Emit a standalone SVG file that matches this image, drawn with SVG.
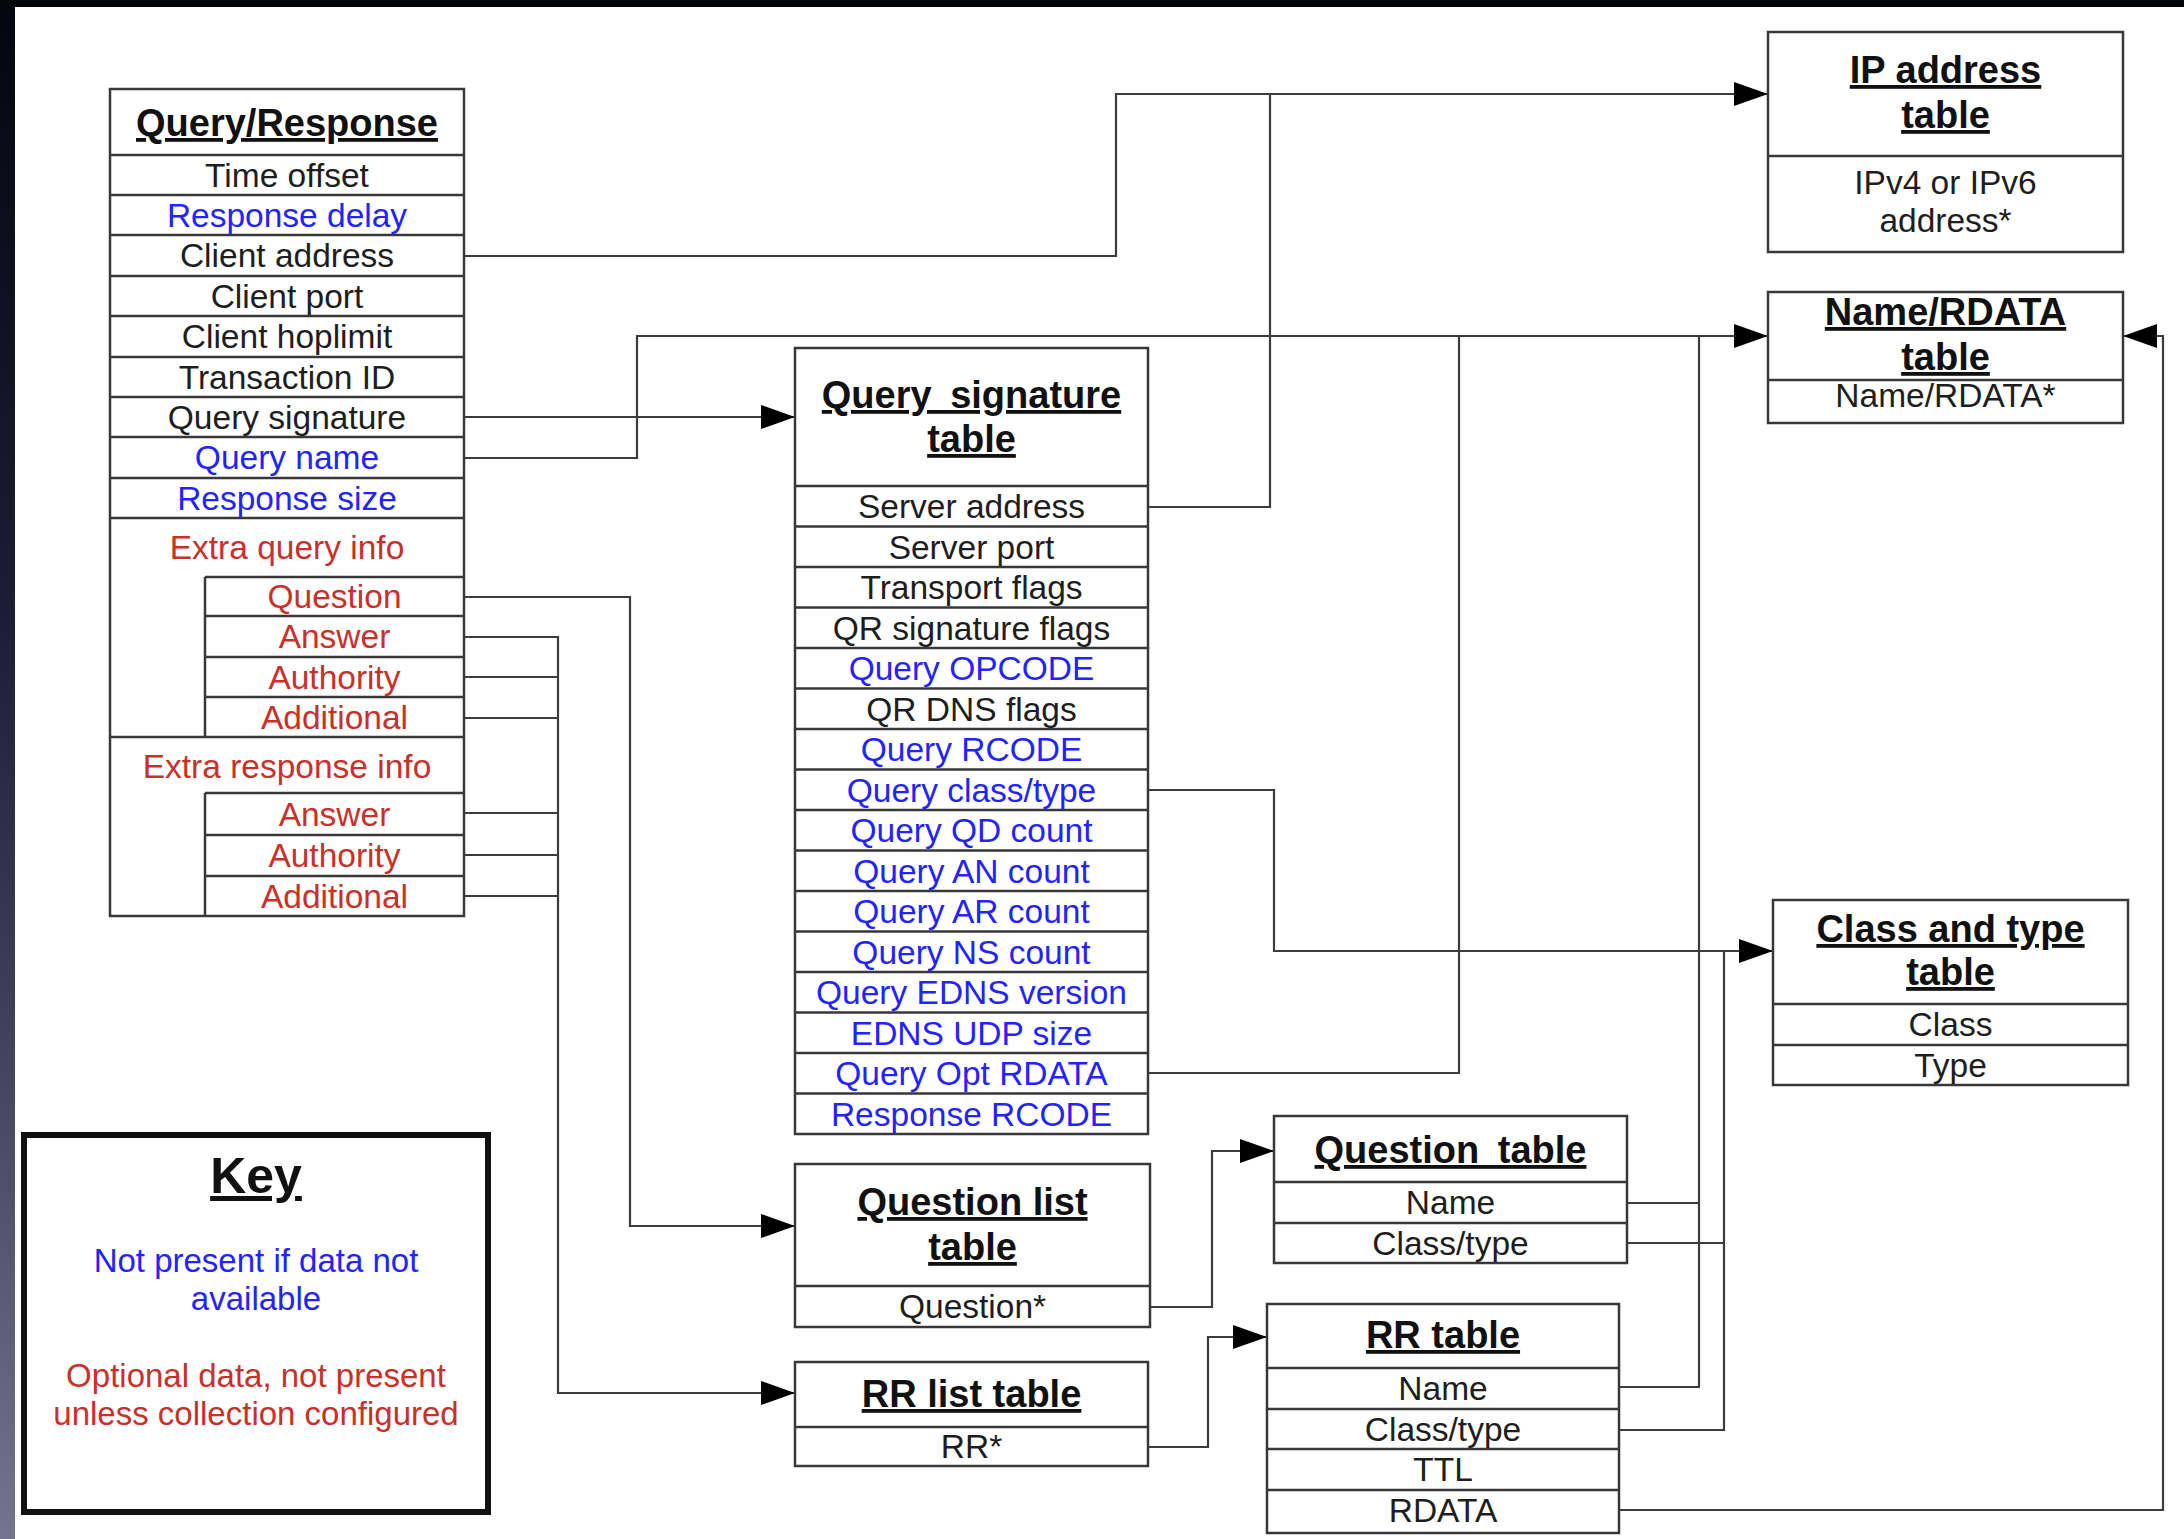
<svg xmlns="http://www.w3.org/2000/svg" width="2184" height="1539" viewBox="0 0 2184 1539">
<defs>
<linearGradient id="lb" x1="0" y1="0" x2="0" y2="1">
<stop offset="0" stop-color="#05050f"/>
<stop offset="0.4" stop-color="#1c1c38"/>
<stop offset="0.7" stop-color="#454562"/>
<stop offset="1" stop-color="#747490"/>
</linearGradient>
<marker id="ah" markerUnits="userSpaceOnUse" markerWidth="36" markerHeight="26" refX="34" refY="12" orient="auto">
<path d="M0,0 L34,12 L0,24 z" fill="#000"/>
</marker>
<style>
.box{fill:#fff;stroke:#383838;stroke-width:2.5}
.ln{stroke:#383838;stroke-width:2.5;fill:none}
.c{stroke:#3c3c3c;stroke-width:2.2;fill:none}
.a{marker-end:url(#ah)}
text{font-family:"Liberation Sans",Arial,sans-serif;font-size:33.5px;text-anchor:middle;fill:#1e1e1e}
.h{font-weight:bold;font-size:38px;text-decoration:underline;fill:#111}
.ws{word-spacing:8px}
.bl{fill:#2323ff}
.rd{fill:#c9302a}
.k{font-size:33px}
</style>
</defs>
<rect x="0" y="0" width="2184" height="1539" fill="#fff"/>
<rect x="0" y="0" width="15" height="1539" fill="url(#lb)"/>
<rect x="0" y="0" width="2184" height="7" fill="#05050c"/>

<g id="connectors">
<path class="c a" d="M464,256 H1116 V94 H1768"/>
<path class="c a" d="M464,417 H795"/>
<path class="c a" d="M464,458 H637 V336 H1768"/>
<path class="c" d="M1148,507 H1270 V94"/>
<path class="c" d="M1148,1073 H1459 V336"/>
<path class="c" d="M1619,1387 H1699 V336"/>
<path class="c" d="M1627,1203 H1699"/>
<path class="c a" d="M1148,790 H1274 V951 H1773"/>
<path class="c" d="M1627,1243 H1724"/>
<path class="c" d="M1619,1430 H1724 V951"/>
<path class="c a" d="M1619,1510 H2163 V336 H2123"/>
<path class="c a" d="M464,597 H630 V1226 H795"/>
<path class="c a" d="M464,637 H558 V1393 H795"/>
<path class="c" d="M464,677 H558 M464,718 H558 M464,813 H558 M464,855 H558 M464,896 H558"/>
<path class="c a" d="M1150,1307 H1212 V1151 H1274"/>
<path class="c a" d="M1148,1447 H1208 V1337 H1267"/>
</g>

<g id="qr">
<rect class="box" x="110" y="89" width="354" height="827"/>
<path class="ln" d="M110,155 H464 M110,195 H464 M110,235 H464 M110,276 H464 M110,316 H464 M110,357 H464 M110,397 H464 M110,437 H464 M110,478 H464 M110,518 H464 M110,737 H464 M205,577 H464 M205,616 H464 M205,657 H464 M205,697 H464 M205,577 V737 M205,793 H464 M205,835 H464 M205,876 H464 M205,793 V916"/>
<text class="h" x="287" y="136">Query/Response</text>
<text x="287" y="187">Time offset</text>
<text class="bl" x="287" y="227">Response delay</text>
<text x="287" y="267">Client address</text>
<text x="287" y="308">Client port</text>
<text x="287" y="348">Client hoplimit</text>
<text x="287" y="389">Transaction ID</text>
<text x="287" y="429">Query signature</text>
<text class="bl" x="287" y="469">Query name</text>
<text class="bl" x="287" y="510">Response size</text>
<text class="rd" x="287" y="559">Extra query info</text>
<text class="rd" x="334.5" y="608">Question</text>
<text class="rd" x="334.5" y="648">Answer</text>
<text class="rd" x="334.5" y="689">Authority</text>
<text class="rd" x="334.5" y="729">Additional</text>
<text class="rd" x="287" y="778">Extra response info</text>
<text class="rd" x="334.5" y="826">Answer</text>
<text class="rd" x="334.5" y="867">Authority</text>
<text class="rd" x="334.5" y="908">Additional</text>
</g>

<g id="qs">
<rect class="box" x="795" y="348" width="353" height="786"/>
<path class="ln" d="M795,486 H1148 M795,526.5 H1148 M795,567 H1148 M795,607.5 H1148 M795,648 H1148 M795,688.5 H1148 M795,729 H1148 M795,769.5 H1148 M795,810 H1148 M795,850.5 H1148 M795,891 H1148 M795,931.5 H1148 M795,972 H1148 M795,1012.5 H1148 M795,1053 H1148 M795,1093.5 H1148"/>
<text class="h ws" x="971.5" y="408">Query signature</text>
<text class="h" x="971.5" y="452">table</text>
<text x="971.5" y="518">Server address</text>
<text x="971.5" y="558.5">Server port</text>
<text x="971.5" y="599">Transport flags</text>
<text x="971.5" y="639.5">QR signature flags</text>
<text class="bl" x="971.5" y="680">Query OPCODE</text>
<text x="971.5" y="720.5">QR DNS flags</text>
<text class="bl" x="971.5" y="761">Query RCODE</text>
<text class="bl" x="971.5" y="801.5">Query class/type</text>
<text class="bl" x="971.5" y="842">Query QD count</text>
<text class="bl" x="971.5" y="882.5">Query AN count</text>
<text class="bl" x="971.5" y="923">Query AR count</text>
<text class="bl" x="971.5" y="963.5">Query NS count</text>
<text class="bl" x="971.5" y="1004">Query EDNS version</text>
<text class="bl" x="971.5" y="1044.5">EDNS UDP size</text>
<text class="bl" x="971.5" y="1085">Query Opt RDATA</text>
<text class="bl" x="971.5" y="1125.5">Response RCODE</text>
</g>

<g id="ip">
<rect class="box" x="1768" y="32" width="355" height="220"/>
<path class="ln" d="M1768,156 H2123"/>
<text class="h" x="1945.5" y="83">IP address</text>
<text class="h" x="1945.5" y="128">table</text>
<text x="1945.5" y="194">IPv4 or IPv6</text>
<text x="1945.5" y="232">address*</text>
</g>

<g id="nr">
<rect class="box" x="1768" y="292" width="355" height="131"/>
<path class="ln" d="M1768,380 H2123"/>
<text class="h" x="1945.5" y="325">Name/RDATA</text>
<text class="h" x="1945.5" y="370">table</text>
<text x="1945.5" y="407">Name/RDATA*</text>
</g>

<g id="ct">
<rect class="box" x="1773" y="900" width="355" height="185"/>
<path class="ln" d="M1773,1004 H2128 M1773,1045 H2128"/>
<text class="h" x="1950.5" y="942">Class and type</text>
<text class="h" x="1950.5" y="985">table</text>
<text x="1950.5" y="1036">Class</text>
<text x="1950.5" y="1077">Type</text>
</g>

<g id="ql">
<rect class="box" x="795" y="1164" width="355" height="163"/>
<path class="ln" d="M795,1286 H1150"/>
<text class="h" x="972.5" y="1215">Question list</text>
<text class="h" x="972.5" y="1260">table</text>
<text x="972.5" y="1318">Question*</text>
</g>

<g id="rl">
<rect class="box" x="795" y="1362" width="353" height="104"/>
<path class="ln" d="M795,1427 H1148"/>
<text class="h" x="971.5" y="1407">RR list table</text>
<text x="971.5" y="1458">RR*</text>
</g>

<g id="qt">
<rect class="box" x="1274" y="1116" width="353" height="147"/>
<path class="ln" d="M1274,1182 H1627 M1274,1223 H1627"/>
<text class="h ws" x="1450.5" y="1163">Question table</text>
<text x="1450.5" y="1214">Name</text>
<text x="1450.5" y="1255">Class/type</text>
</g>

<g id="rr">
<rect class="box" x="1267" y="1304" width="352" height="229"/>
<path class="ln" d="M1267,1368 H1619 M1267,1409 H1619 M1267,1449 H1619 M1267,1490 H1619"/>
<text class="h" x="1443" y="1348">RR table</text>
<text x="1443" y="1400">Name</text>
<text x="1443" y="1441">Class/type</text>
<text x="1443" y="1481">TTL</text>
<text x="1443" y="1522">RDATA</text>
</g>

<g id="key">
<rect x="24" y="1135" width="464" height="377" fill="#fff" stroke="#111" stroke-width="6"/>
<text class="h" x="256" y="1193" style="font-size:50px">Key</text>
<text class="bl k" x="256" y="1272">Not present if data not</text>
<text class="bl k" x="256" y="1310">available</text>
<text class="rd k" x="256" y="1387">Optional data, not present</text>
<text class="rd k" x="256" y="1425">unless collection configured</text>
</g>
</svg>
